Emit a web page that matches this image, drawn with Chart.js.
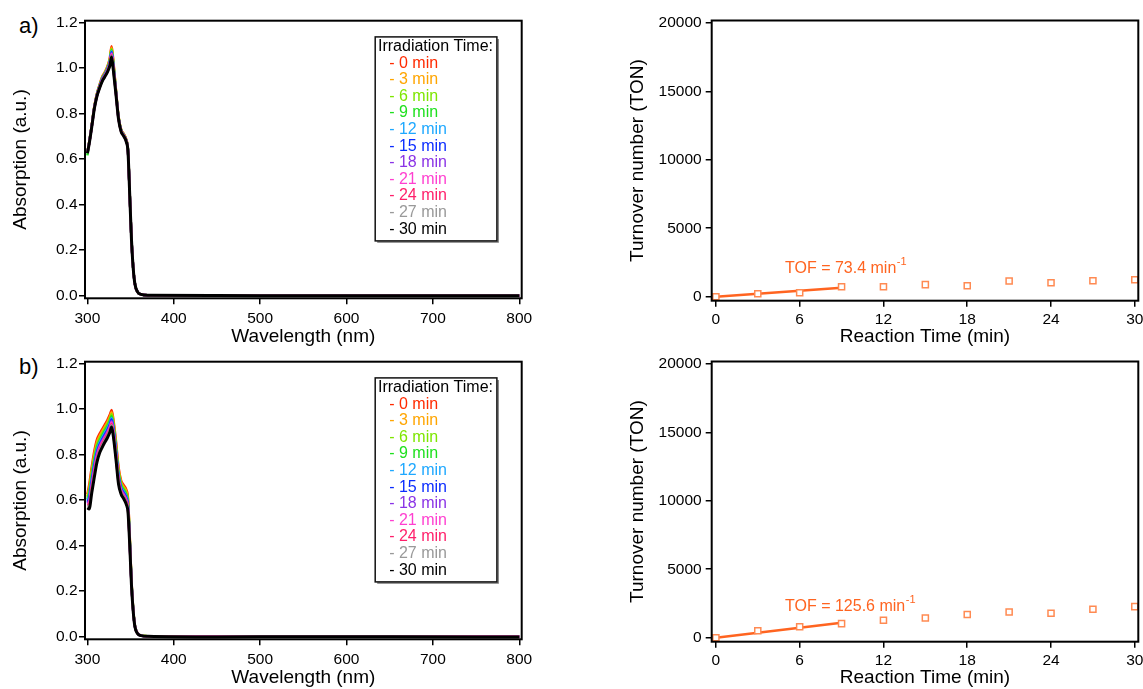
<!DOCTYPE html>
<html><head><meta charset="utf-8">
<script src="https://cdn.jsdelivr.net/npm/chart.js@4.4.1/dist/chart.umd.min.js"></script>
<style>
html,body{margin:0;padding:0;background:#fff;overflow:hidden;}
body{width:1143px;height:689px;position:relative;font-family:"Liberation Sans",Arial,Helvetica,sans-serif;}
canvas{position:absolute;}
.lab{position:absolute;font-size:22px;color:#000;line-height:1;}
</style></head><body>
<div class="lab" style="left:19px;top:15px">a)</div>
<div class="lab" style="left:19px;top:356px">b)</div>
<canvas id="ca" width="570" height="348" style="left:0;top:0"></canvas>
<canvas id="cb" width="570" height="348" style="left:0;top:341px"></canvas>
<canvas id="cc" width="570" height="348" style="left:590px;top:0"></canvas>
<canvas id="cd" width="570" height="348" style="left:590px;top:341px"></canvas>
<script>
// ---------- data ----------
const wavelengths = [300,302,305,308,311,314,317,320,323,326,328,330,333,336,339,342,345,347,349,351,353,355,358,362,370,450,550,650,800];
const irradiationLabels = ['0 min','3 min','6 min','9 min','12 min','15 min','18 min','21 min','24 min','27 min','30 min'];
const seriesColors = ['#ff2a00','#ffa500','#7ee600','#1ee01e','#1ea8ff','#0a2cff','#8a33e6','#ff3fd0','#ff1f6a','#999999','#000000'];

const absA00 = [0.630,0.673,0.748,0.830,0.887,0.925,0.960,0.980,1.005,1.045,1.095,1.030,0.905,0.787,0.730,0.710,0.685,0.638,0.445,0.248,0.122,0.051,0.015,0.004,0.000,-0.001,-0.002,-0.002,-0.002];
const absA03 = [0.629,0.672,0.747,0.829,0.885,0.923,0.957,0.977,1.002,1.040,1.089,1.025,0.902,0.785,0.729,0.709,0.684,0.637,0.444,0.248,0.122,0.051,0.015,0.004,0.000,-0.001,-0.002,-0.002,-0.002];
const absA06 = [0.629,0.671,0.746,0.827,0.884,0.921,0.955,0.975,0.999,1.036,1.083,1.020,0.900,0.784,0.727,0.707,0.682,0.636,0.444,0.247,0.121,0.051,0.015,0.004,0.000,-0.001,-0.002,-0.002,-0.002];
const absA09 = [0.615,0.670,0.745,0.826,0.883,0.920,0.953,0.973,0.996,1.032,1.078,1.016,0.898,0.783,0.726,0.706,0.681,0.635,0.443,0.247,0.121,0.051,0.015,0.004,0.000,-0.001,-0.002,-0.002,-0.002];
const absA12 = [0.628,0.669,0.744,0.825,0.881,0.918,0.951,0.971,0.994,1.029,1.073,1.012,0.896,0.781,0.725,0.705,0.680,0.634,0.443,0.247,0.121,0.051,0.015,0.004,0.000,-0.001,-0.002,-0.002,-0.002];
const absA15 = [0.627,0.669,0.744,0.824,0.880,0.917,0.949,0.969,0.991,1.025,1.069,1.008,0.894,0.780,0.724,0.704,0.679,0.634,0.442,0.246,0.121,0.050,0.015,0.004,0.000,-0.001,-0.002,-0.002,-0.002];
const absA18 = [0.627,0.668,0.743,0.824,0.879,0.915,0.947,0.967,0.989,1.022,1.064,1.004,0.892,0.779,0.724,0.704,0.679,0.633,0.442,0.246,0.121,0.050,0.015,0.004,0.000,-0.001,-0.002,-0.002,-0.002];
const absA21 = [0.626,0.667,0.742,0.823,0.878,0.914,0.945,0.965,0.987,1.019,1.061,1.001,0.890,0.778,0.723,0.703,0.678,0.632,0.441,0.246,0.121,0.050,0.015,0.004,0.000,-0.001,-0.002,-0.002,-0.002];
const absA24 = [0.626,0.667,0.742,0.822,0.877,0.913,0.944,0.964,0.985,1.017,1.057,0.998,0.889,0.777,0.722,0.702,0.677,0.632,0.441,0.246,0.120,0.050,0.015,0.004,0.000,-0.001,-0.002,-0.002,-0.002];
const absA27 = [0.626,0.666,0.741,0.821,0.876,0.912,0.942,0.962,0.983,1.014,1.053,0.994,0.887,0.776,0.721,0.701,0.676,0.631,0.441,0.245,0.120,0.050,0.015,0.004,0.000,-0.001,-0.002,-0.002,-0.002];
const absA30 = [0.625,0.665,0.740,0.820,0.875,0.910,0.940,0.960,0.980,1.010,1.048,0.990,0.885,0.775,0.720,0.700,0.675,0.630,0.440,0.245,0.120,0.050,0.015,0.004,0.000,-0.001,-0.002,-0.002,-0.002];

const absB00 = [0.625,0.665,0.745,0.815,0.865,0.890,0.910,0.930,0.950,0.975,0.995,0.955,0.860,0.745,0.685,0.665,0.645,0.605,0.440,0.245,0.120,0.048,0.014,0.004,0.000,-0.002,-0.001,-0.001,-0.002];
const absB03 = [0.617,0.651,0.730,0.800,0.852,0.879,0.900,0.920,0.940,0.965,0.985,0.945,0.850,0.735,0.677,0.657,0.637,0.597,0.435,0.242,0.119,0.047,0.014,0.004,0.000,-0.002,-0.001,-0.001,-0.002];
const absB06 = [0.610,0.639,0.716,0.786,0.840,0.869,0.890,0.911,0.931,0.956,0.976,0.936,0.840,0.726,0.670,0.650,0.629,0.590,0.430,0.240,0.118,0.046,0.013,0.004,0.000,-0.002,-0.001,-0.001,-0.002];
const absB09 = [0.603,0.627,0.704,0.774,0.829,0.859,0.881,0.902,0.922,0.947,0.968,0.928,0.831,0.718,0.663,0.643,0.622,0.583,0.426,0.238,0.116,0.045,0.013,0.004,0.000,-0.002,-0.001,-0.001,-0.002];
const absB12 = [0.597,0.617,0.692,0.762,0.819,0.851,0.873,0.894,0.914,0.939,0.960,0.920,0.823,0.710,0.657,0.637,0.615,0.577,0.422,0.236,0.115,0.045,0.013,0.003,0.000,-0.002,-0.002,-0.002,-0.002];
const absB15 = [0.591,0.606,0.681,0.751,0.809,0.842,0.865,0.886,0.906,0.931,0.953,0.913,0.815,0.703,0.651,0.631,0.609,0.571,0.418,0.234,0.114,0.044,0.013,0.003,0.000,-0.002,-0.002,-0.002,-0.002];
const absB18 = [0.586,0.597,0.670,0.740,0.800,0.835,0.858,0.879,0.899,0.924,0.946,0.906,0.808,0.696,0.646,0.626,0.603,0.566,0.414,0.232,0.113,0.044,0.013,0.003,0.000,-0.002,-0.002,-0.002,-0.002];
const absB21 = [0.581,0.588,0.661,0.731,0.792,0.828,0.852,0.873,0.893,0.918,0.940,0.900,0.802,0.690,0.641,0.621,0.598,0.561,0.411,0.230,0.113,0.044,0.013,0.003,0.000,-0.002,-0.002,-0.002,-0.002];
const absB24 = [0.576,0.580,0.652,0.722,0.784,0.821,0.845,0.867,0.887,0.912,0.934,0.894,0.795,0.684,0.636,0.616,0.592,0.556,0.408,0.229,0.112,0.043,0.012,0.003,0.000,-0.002,-0.002,-0.002,-0.002];
const absB27 = [0.572,0.572,0.643,0.713,0.776,0.814,0.839,0.861,0.881,0.906,0.928,0.888,0.789,0.678,0.632,0.612,0.587,0.552,0.404,0.227,0.111,0.042,0.012,0.003,0.000,-0.003,-0.002,-0.002,-0.003];
const absB30 = [0.565,0.560,0.630,0.700,0.765,0.805,0.830,0.852,0.872,0.897,0.920,0.880,0.780,0.670,0.625,0.605,0.580,0.545,0.400,0.225,0.110,0.042,0.012,0.003,0.000,-0.003,-0.002,-0.002,-0.003];

const reactionTimes = [0,3,6,9,12,15,18,21,24,27,30];
const tonA = [0,220,290,730,730,880,800,1150,1020,1170,1240];
const tonB = [0,510,800,1030,1270,1440,1690,1880,1780,2080,2270];
const fitTimes = [0,9];
const fitA = [0,660];
const fitB = [0,1090];
const tofTextA = 'TOF = 73.4 min';
const tofTextB = 'TOF = 125.6 min';

const wlTicks = [300,400,500,600,700,800];
const absTicks = [0,0.2,0.4,0.6,0.8,1.0,1.2];
const timeTicks = [0,6,12,18,24,30];
const tonTicks = [0,5000,10000,15000,20000];

// ---------- styling / helpers ----------
const FONT = '"Liberation Sans", Arial, Helvetica, sans-serif';
Chart.defaults.font.family = FONT;
Chart.defaults.color = '#000';
const ORANGE = '#ff6420';

const framePlugin = {
  id:'frame',
  afterDatasetsDraw(chart){
    const {ctx, chartArea:a} = chart;
    ctx.save();
    ctx.strokeStyle = '#000'; ctx.lineWidth = 2;
    ctx.strokeRect(a.left, a.top, a.right - a.left, a.bottom - a.top);
    ctx.restore();
  }
};

const irrLegendPlugin = {
  id:'irrLegend',
  afterDraw(chart){
    const {ctx, chartArea:a} = chart;
    const x0 = a.left + 290.2, y0 = a.top + 16.2, w = 121.7, h = 204;
    ctx.save();
    ctx.fillStyle = '#fff';
    ctx.fillRect(x0, y0, w, h);
    ctx.strokeStyle = '#777'; ctx.lineWidth = 1.5;
    ctx.beginPath(); ctx.moveTo(x0 + w + 1.2, y0 + 2); ctx.lineTo(x0 + w + 1.2, y0 + h + 1.2); ctx.lineTo(x0 + 2, y0 + h + 1.2); ctx.stroke();
    ctx.strokeStyle = '#111'; ctx.lineWidth = 1.5;
    ctx.strokeRect(x0, y0, w, h);
    ctx.font = '16px ' + FONT;
    ctx.textBaseline = 'middle';
    ctx.textAlign = 'left';
    ctx.fillStyle = '#000';
    ctx.fillText('Irradiation Time:', x0 + 2.8, y0 + 9.6);
    irradiationLabels.forEach((lab, i) => {
      ctx.fillStyle = seriesColors[i];
      ctx.fillText('- ' + lab, x0 + 14, y0 + 26.3 + i * 16.6);
    });
    ctx.restore();
  }
};

const tofPlugin = {
  id:'tof',
  afterDatasetsDraw(chart, args, opts){
    if (!opts || !opts.text) return;
    const {ctx} = chart;
    const px = chart.scales.x.getPixelForValue(opts.x);
    const py = chart.scales.y.getPixelForValue(opts.y);
    ctx.save();
    ctx.fillStyle = ORANGE;
    ctx.textBaseline = 'alphabetic';
    ctx.textAlign = 'left';
    ctx.font = '16px ' + FONT;
    ctx.fillText(opts.text, px, py);
    const w = ctx.measureText(opts.text).width;
    ctx.font = '11px ' + FONT;
    ctx.fillText('-1', px + w + 0.5, py - 8);
    ctx.restore();
  }
};

function axisCommon(tickPad){
  return {
    grid:{display:true, drawOnChartArea:false, drawTicks:true, tickLength:6, color:'#000', lineWidth:1.5},
    border:{display:false},
    ticks:{font:{size:15.5}, padding:tickPad, color:'#000', maxRotation:0, minRotation:0, autoSkip:false}
  };
}

function spectraChart(id, seriesList){
  const xc = axisCommon(5), yc = axisCommon(1.5);
  return new Chart(document.getElementById(id), {
    type:'line',
    data:{ datasets: seriesList.map((vals, i) => ({
      label: irradiationLabels[i],
      data: wavelengths.map((wl, j) => ({x: wl, y: vals[j]})),
      borderColor: seriesColors[i],
      backgroundColor: seriesColors[i],
      borderWidth: i === seriesList.length - 1 ? 3 : 2.5,
      pointRadius: 0,
      cubicInterpolationMode: 'monotone',
      fill: false,
      order: seriesList.length - 1 - i
    }))},
    options:{
      responsive:false, animation:false, devicePixelRatio:1,
      layout:{padding:{top:20.7, right:48.3, left:0, bottom:0}},
      plugins:{legend:{display:false}, tooltip:{enabled:false}},
      scales:{
        x:{type:'linear', min:297.2, max:802.8,
          afterBuildTicks: s => { s.ticks = wlTicks.map(v => ({value:v})); },
          afterFit: s => { s.height = 348 - 298.3; },
          grid: xc.grid, border: xc.border,
          ticks: Object.assign({}, xc.ticks, {callback: v => String(v)}),
          title:{display:true, text:'Wavelength (nm)', font:{size:19}, color:'#000', padding:{top:0, bottom:0}}
        },
        y:{type:'linear', min:-0.0132, max:1.2075,
          afterBuildTicks: s => { s.ticks = absTicks.map(v => ({value:v})); },
          afterFit: s => { s.width = 85; },
          grid: yc.grid, border: yc.border,
          ticks: Object.assign({}, yc.ticks, {callback: v => Number(v).toFixed(1)}),
          title:{display:true, text:'Absorption (a.u.)', font:{size:19}, color:'#000', padding:{top:9, bottom:0}}
        }
      }
    },
    plugins:[framePlugin, irrLegendPlugin]
  });
}

function tonChart(id, tonVals, fitVals, tofText, tofY){
  const xc = axisCommon(4), yc = axisCommon(4);
  return new Chart(document.getElementById(id), {
    type:'scatter',
    data:{ datasets:[
      {
        label:'TON',
        data: reactionTimes.map((t, i) => ({x:t, y:tonVals[i]})),
        showLine:false,
        pointStyle:'rect', pointRadius:4.3, borderWidth:1.5,
        borderColor:'#ff8a52', backgroundColor:'#ffffff', pointBackgroundColor:'#ffffff',
        order:0
      },
      {
        label:'fit',
        data: fitTimes.map((t, i) => ({x:t, y:fitVals[i]})),
        showLine:true, borderColor:ORANGE, borderWidth:2.5, pointRadius:0,
        order:1
      }
    ]},
    options:{
      responsive:false, animation:false, devicePixelRatio:1,
      layout:{padding:{top:20.5, right:21.7, left:0, bottom:0}},
      plugins:{legend:{display:false}, tooltip:{enabled:false}, tof:{text:tofText, x:4.95, y:tofY}},
      scales:{
        x:{type:'linear', min:-0.30, max:30.25,
          afterBuildTicks: s => { s.ticks = timeTicks.map(v => ({value:v})); },
          afterFit: s => { s.height = 348 - 300.7; },
          grid: xc.grid, border: xc.border,
          ticks: Object.assign({}, xc.ticks, {callback: v => String(v)}),
          title:{display:true, text:'Reaction Time (min)', font:{size:19}, color:'#000', padding:{top:0, bottom:0}}
        },
        y:{type:'linear', min:-292, max:20168,
          afterBuildTicks: s => { s.ticks = tonTicks.map(v => ({value:v})); },
          afterFit: s => { s.width = 121.7; },
          grid: yc.grid, border: yc.border,
          ticks: Object.assign({}, yc.ticks, {callback: v => String(v)}),
          title:{display:true, text:'Turnover number (TON)', font:{size:19}, color:'#000', padding:{top:36.2, bottom:0}}
        }
      }
    },
    plugins:[framePlugin, tofPlugin]
  });
}

spectraChart('ca', [absA00,absA03,absA06,absA09,absA12,absA15,absA18,absA21,absA24,absA27,absA30]);
spectraChart('cb', [absB00,absB03,absB06,absB09,absB12,absB15,absB18,absB21,absB24,absB27,absB30]);
tonChart('cc', tonA, fitA, tofTextA, 1740);
tonChart('cd', tonB, fitB, tofTextB, 1980);
</script>
</body></html>
